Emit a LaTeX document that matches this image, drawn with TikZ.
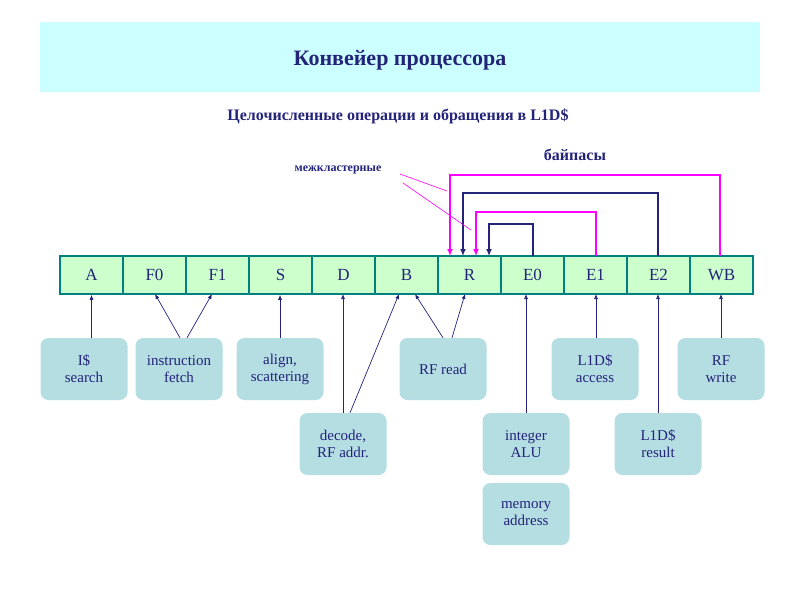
\documentclass[tikz,border=0pt]{standalone}
\usepackage{fontspec}
\setmainfont{Liberation Serif}
\usetikzlibrary{arrows.meta}
\definecolor{navy}{HTML}{23237A}
\definecolor{band}{HTML}{CCFFFF}
\definecolor{cell}{HTML}{CCFFCC}
\definecolor{cellb}{HTML}{008080}
\definecolor{boxc}{HTML}{B5DEE3}
\definecolor{mag}{HTML}{FF00FF}
\begin{document}
\begin{tikzpicture}[x=1pt,y=-1pt,
  stage/.style={draw=cellb,line width=1.5pt,fill=cell,minimum width=63pt,minimum height=38pt,inner sep=0pt,font=\fontsize{17}{17}\selectfont,text=navy},
  info/.style={fill=boxc,rounded corners=8pt,minimum width=87pt,minimum height=62pt,align=center,text=navy,font=\fontsize{15}{17}\selectfont,inner sep=1pt},
  ar/.style={navy,line width=0.7pt,-{Latex[length=5pt,width=4pt]}},
  bp/.style={line width=2.6pt,-{Latex[length=7pt,width=6pt]}}]
\useasboundingbox (0,0) rectangle (800,600);
\fill[band] (40,22) rectangle (760,92);
\node[text=navy,font=\bfseries\fontsize{22}{22}\selectfont] (title) at (400,60) {Конвейер процессора};
\node[text=navy,font=\bfseries\fontsize{16}{16}\selectfont] (sub) at (398,116) {Целочисленные операции и обращения в L1D\$};
\node[text=navy,font=\bfseries\fontsize{16}{16}\selectfont] (byp) at (575,155) {байпасы};
\node[text=navy,font=\bfseries\fontsize{12}{12}\selectfont] (mk) at (338,170) {межкластерные};
\foreach \n/\t [count=\i from 0] in {A/A,F0/F0,F1/F1,S/S,D/D,B/B,R/R,E0/E0,E1/E1,E2/E2,WB/WB}
  \node[stage] (\n) at (91.5+63*\i,275) {\t};
% bypasses
\draw[bp,mag] (720,256) -- (720,175) -- (450,175) -- (450,256);
\draw[bp,navy] (658,256) -- (658,193) -- (463,193) -- (463,256);
\draw[bp,mag] (596,256) -- (596,212) -- (476,212) -- (476,256);
\draw[bp,navy] (533,256) -- (533,224) -- (489,224) -- (489,256);
\coordinate (m1) at (400,174);
\coordinate (m2) at (403,183);
\draw[mag,line width=0.6pt] (m1) -- (447,191);
\draw[mag,line width=0.6pt] (m2) -- (471,230);
% info boxes
\node[info] (is) at (84,369) {I\$\\search};
\node[info] (if) at (179,369) {instruction\\fetch};
\node[info] (al) at (280,369) {align,\\scattering};
\node[info] (de) at (343,444) {decode,\\RF addr.};
\node[info] (rf) at (443,369) {RF read};
\node[info] (ia) at (526,444) {integer\\ALU};
\node[info] (ma) at (526,514) {memory\\address};
\node[info] (la) at (595,369) {L1D\$\\access};
\node[info] (lr) at (658,444) {L1D\$\\result};
\node[info] (rw) at (721,369) {RF\\write};
\draw[ar] (is.north -| A) -- (A.south);
\draw[ar] ([xshift=1pt]if.north) -- (155,294);
\draw[ar] ([xshift=8pt]if.north) -- (212,294);
\draw[ar] (al.north) -- (S.south -| al.north);
\draw[ar] (de.north) -- (343,294);
\draw[ar] ([xshift=7pt]de.north) -- (399,294);
\draw[ar] ([xshift=0pt]rf.north) -- (415,294);
\draw[ar] ([xshift=9pt]rf.north) -- (465,294);
\draw[ar] (ia.north) -- (526,294);
\draw[ar] ([xshift=1pt]la.north) -- (596,294);
\draw[ar] (lr.north) -- (658,294);
\draw[ar] (rw.north) -- (721,294);
\end{tikzpicture}
\end{document}
